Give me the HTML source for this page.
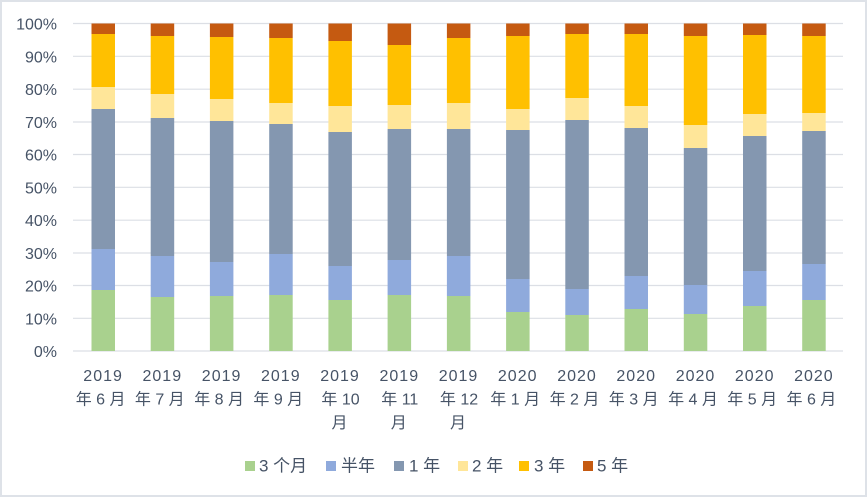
<!DOCTYPE html>
<html><head><meta charset="utf-8"><style>
html,body{margin:0;padding:0;background:#fff;}
svg{display:block;}
text{font-family:"Liberation Sans","Noto Sans CJK SC",sans-serif;fill:#465366;}
</style></head><body>
<svg width="867" height="497" viewBox="0 0 867 497" xmlns="http://www.w3.org/2000/svg">
<rect x="1" y="1" width="865" height="495" fill="#fff" stroke="#dee2e8" stroke-width="2"/>
<g stroke="#dcdfe5" stroke-width="1.2">
<line x1="73" x2="843" y1="23.5" y2="23.5"/>
<line x1="73" x2="843" y1="56.3" y2="56.3"/>
<line x1="73" x2="843" y1="89.2" y2="89.2"/>
<line x1="73" x2="843" y1="122" y2="122"/>
<line x1="73" x2="843" y1="154.5" y2="154.5"/>
<line x1="73" x2="843" y1="187.3" y2="187.3"/>
<line x1="73" x2="843" y1="220.2" y2="220.2"/>
<line x1="73" x2="843" y1="253" y2="253"/>
<line x1="73" x2="843" y1="285.5" y2="285.5"/>
<line x1="73" x2="843" y1="318.3" y2="318.3"/>
<line x1="73" x2="843" y1="351" y2="351"/>
</g>
<g font-size="16" text-anchor="end">
<text x="57" y="29.5">100%</text>
<text x="57" y="62.3">90%</text>
<text x="57" y="95.2">80%</text>
<text x="57" y="128">70%</text>
<text x="57" y="160.5">60%</text>
<text x="57" y="193.3">50%</text>
<text x="57" y="226.2">40%</text>
<text x="57" y="259">30%</text>
<text x="57" y="291.5">20%</text>
<text x="57" y="324.3">10%</text>
<text x="57" y="357">0%</text>
</g>

<!-- bars: 5Y, 3Y, 2Y, 1Y, half, 3M -->
<g>
<g transform="translate(91.5,0)">
<rect width="23.5" y="23.5" height="10.5" fill="#c55a11"/><rect width="23.5" y="34" height="53" fill="#ffc000"/><rect width="23.5" y="87" height="22" fill="#ffe699"/><rect width="23.5" y="109" height="140" fill="#8497b0"/><rect width="23.5" y="249" height="41" fill="#8faadc"/><rect width="23.5" y="290" height="61" fill="#a9d18e"/>
</g>
<g transform="translate(150.7,0)">
<rect width="23.5" y="23.5" height="12.5" fill="#c55a11"/><rect width="23.5" y="36" height="58" fill="#ffc000"/><rect width="23.5" y="94" height="24" fill="#ffe699"/><rect width="23.5" y="118" height="138" fill="#8497b0"/><rect width="23.5" y="256" height="41" fill="#8faadc"/><rect width="23.5" y="297" height="54" fill="#a9d18e"/>
</g>
<g transform="translate(209.9,0)">
<rect width="23.5" y="23.5" height="13.5" fill="#c55a11"/><rect width="23.5" y="37" height="62" fill="#ffc000"/><rect width="23.5" y="99" height="22" fill="#ffe699"/><rect width="23.5" y="121" height="141" fill="#8497b0"/><rect width="23.5" y="262" height="34" fill="#8faadc"/><rect width="23.5" y="296" height="55" fill="#a9d18e"/>
</g>
<g transform="translate(269.2,0)">
<rect width="23.5" y="23.5" height="14.5" fill="#c55a11"/><rect width="23.5" y="38" height="65" fill="#ffc000"/><rect width="23.5" y="103" height="21" fill="#ffe699"/><rect width="23.5" y="124" height="130" fill="#8497b0"/><rect width="23.5" y="254" height="41" fill="#8faadc"/><rect width="23.5" y="295" height="56" fill="#a9d18e"/>
</g>
<g transform="translate(328.4,0)">
<rect width="23.5" y="23.5" height="17.5" fill="#c55a11"/><rect width="23.5" y="41" height="65" fill="#ffc000"/><rect width="23.5" y="106" height="26" fill="#ffe699"/><rect width="23.5" y="132" height="134" fill="#8497b0"/><rect width="23.5" y="266" height="34" fill="#8faadc"/><rect width="23.5" y="300" height="51" fill="#a9d18e"/>
</g>
<g transform="translate(387.6,0)">
<rect width="23.5" y="23.5" height="21.5" fill="#c55a11"/><rect width="23.5" y="45" height="60" fill="#ffc000"/><rect width="23.5" y="105" height="24" fill="#ffe699"/><rect width="23.5" y="129" height="131" fill="#8497b0"/><rect width="23.5" y="260" height="35" fill="#8faadc"/><rect width="23.5" y="295" height="56" fill="#a9d18e"/>
</g>
<g transform="translate(446.9,0)">
<rect width="23.5" y="23.5" height="14.5" fill="#c55a11"/><rect width="23.5" y="38" height="65" fill="#ffc000"/><rect width="23.5" y="103" height="26" fill="#ffe699"/><rect width="23.5" y="129" height="127" fill="#8497b0"/><rect width="23.5" y="256" height="40" fill="#8faadc"/><rect width="23.5" y="296" height="55" fill="#a9d18e"/>
</g>
<g transform="translate(506.1,0)">
<rect width="23.5" y="23.5" height="12.5" fill="#c55a11"/><rect width="23.5" y="36" height="73" fill="#ffc000"/><rect width="23.5" y="109" height="21" fill="#ffe699"/><rect width="23.5" y="130" height="149" fill="#8497b0"/><rect width="23.5" y="279" height="33" fill="#8faadc"/><rect width="23.5" y="312" height="39" fill="#a9d18e"/>
</g>
<g transform="translate(565.3,0)">
<rect width="23.5" y="23.5" height="10.5" fill="#c55a11"/><rect width="23.5" y="34" height="64" fill="#ffc000"/><rect width="23.5" y="98" height="22" fill="#ffe699"/><rect width="23.5" y="120" height="169" fill="#8497b0"/><rect width="23.5" y="289" height="26" fill="#8faadc"/><rect width="23.5" y="315" height="36" fill="#a9d18e"/>
</g>
<g transform="translate(624.5,0)">
<rect width="23.5" y="23.5" height="10.5" fill="#c55a11"/><rect width="23.5" y="34" height="72" fill="#ffc000"/><rect width="23.5" y="106" height="22" fill="#ffe699"/><rect width="23.5" y="128" height="148" fill="#8497b0"/><rect width="23.5" y="276" height="33" fill="#8faadc"/><rect width="23.5" y="309" height="42" fill="#a9d18e"/>
</g>
<g transform="translate(683.8,0)">
<rect width="23.5" y="23.5" height="12.5" fill="#c55a11"/><rect width="23.5" y="36" height="89" fill="#ffc000"/><rect width="23.5" y="125" height="23" fill="#ffe699"/><rect width="23.5" y="148" height="137" fill="#8497b0"/><rect width="23.5" y="285" height="29" fill="#8faadc"/><rect width="23.5" y="314" height="37" fill="#a9d18e"/>
</g>
<g transform="translate(743,0)">
<rect width="23.5" y="23.5" height="11.5" fill="#c55a11"/><rect width="23.5" y="35" height="79" fill="#ffc000"/><rect width="23.5" y="114" height="22" fill="#ffe699"/><rect width="23.5" y="136" height="135" fill="#8497b0"/><rect width="23.5" y="271" height="35" fill="#8faadc"/><rect width="23.5" y="306" height="45" fill="#a9d18e"/>
</g>
<g transform="translate(802.2,0)">
<rect width="23.5" y="23.5" height="12.5" fill="#c55a11"/><rect width="23.5" y="36" height="77" fill="#ffc000"/><rect width="23.5" y="113" height="18" fill="#ffe699"/><rect width="23.5" y="131" height="133" fill="#8497b0"/><rect width="23.5" y="264" height="36" fill="#8faadc"/><rect width="23.5" y="300" height="51" fill="#a9d18e"/>
</g>
</g>

<!-- x labels -->
<g font-size="16" text-anchor="middle">
<g letter-spacing="1">
<text x="103.1" y="381">2019</text>
<text x="162.3" y="381">2019</text>
<text x="221.6" y="381">2019</text>
<text x="280.8" y="381">2019</text>
<text x="340" y="381">2019</text>
<text x="399.3" y="381">2019</text>
<text x="458.5" y="381">2019</text>
<text x="517.7" y="381">2020</text>
<text x="577" y="381">2020</text>
<text x="636.2" y="381">2020</text>
<text x="695.5" y="381">2020</text>
<text x="754.7" y="381">2020</text>
<text x="813.9" y="381">2020</text>
</g>
<text x="100.6" y="404.5">年 6 月</text>
<text x="159.8" y="404.5">年 7 月</text>
<text x="219.1" y="404.5">年 8 月</text>
<text x="278.3" y="404.5">年 9 月</text>
<text x="340.5" y="404.5">年 10</text>
<text x="399.8" y="404.5">年 11</text>
<text x="459" y="404.5">年 12</text>
<text x="515.2" y="404.5">年 1 月</text>
<text x="574.5" y="404.5">年 2 月</text>
<text x="633.7" y="404.5">年 3 月</text>
<text x="693" y="404.5">年 4 月</text>
<text x="752.2" y="404.5">年 5 月</text>
<text x="811.4" y="404.5">年 6 月</text>
<text x="339.5" y="428">月</text>
<text x="398.8" y="428">月</text>
<text x="458" y="428">月</text>
</g>

<g font-size="17">
<rect x="245" y="461" width="10" height="10" fill="#a9d18e"/><text x="259" y="471.5">3 个月</text>
<rect x="326" y="461" width="10" height="10" fill="#8faadc"/><text x="341" y="471.5">半年</text>
<rect x="394" y="461" width="10" height="10" fill="#8497b0"/><text x="409" y="471.5">1 年</text>
<rect x="458" y="461" width="10" height="10" fill="#ffe699"/><text x="472" y="471.5">2 年</text>
<rect x="519" y="461" width="10" height="10" fill="#ffc000"/><text x="534" y="471.5">3 年</text>
<rect x="583" y="461" width="10" height="10" fill="#c55a11"/><text x="597" y="471.5">5 年</text>
</g>
</svg>
</body></html>
